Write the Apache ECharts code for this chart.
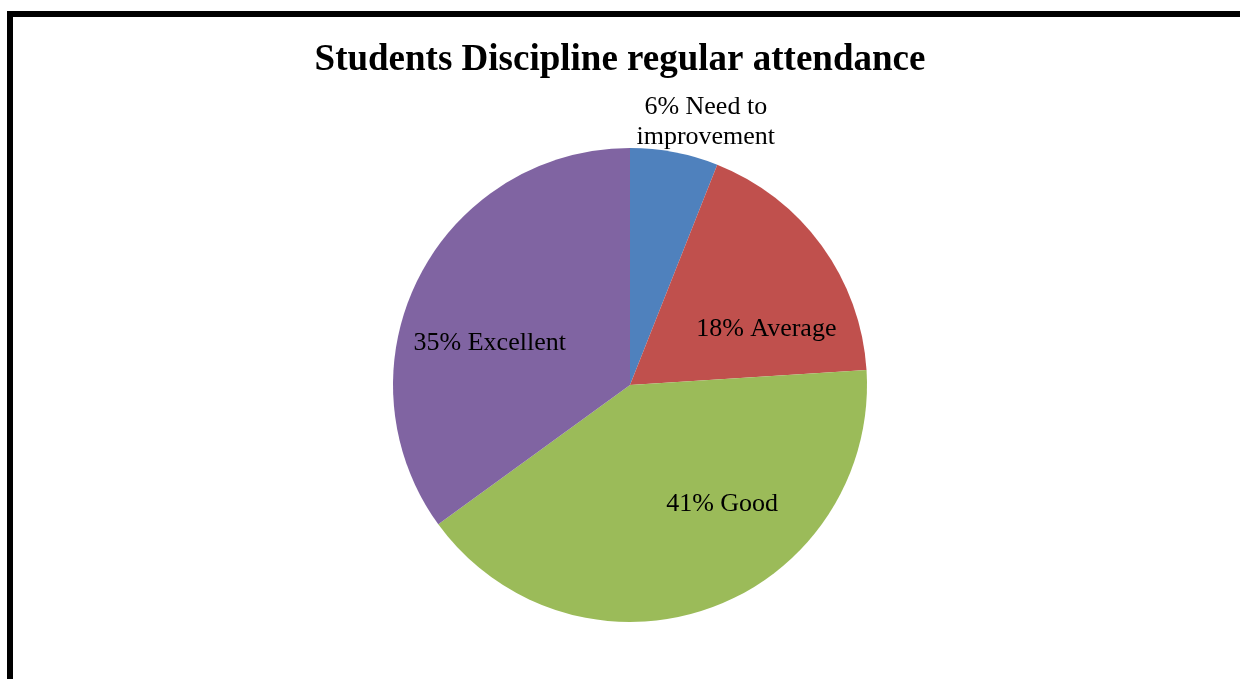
<!DOCTYPE html>
<html>
<head>
<meta charset="utf-8">
<style>
  html, body { margin: 0; padding: 0; background: #fff; }
  #main { width: 1240px; height: 679px; }
</style>
<script src="https://cdn.jsdelivr.net/npm/echarts@6/dist/echarts.min.js"></script>
</head>
<body>
<div id="main"></div>
<script>
var categories = ["Need to\nimprovement", "Average", "Good", "Excellent"];
var percents = [6, 18, 41, 35];
var colors = ["#4F81BD", "#C0504D", "#9BBB59", "#8064A2"];
// label nudges, Excel doesn't put them exactly on the mid angle
var labelShift = [[53, -143], [38, 16], [51, 5], [-32, 13]];

var chart = echarts.init(document.getElementById("main"));

var pieData = categories.map(function (name, i) {
    return { name: name, value: percents[i], itemStyle: { color: colors[i] } };
});

chart.setOption({
    animation: false,
    backgroundColor: "#fff",
    title: {
        text: "Students Discipline regular attendance",
        left: "center",
        top: 37,
        textStyle: {
            fontFamily: "Liberation Serif",
            fontWeight: "bold",
            fontSize: 37,
            color: "#000"
        }
    },
    graphic: [{
        type: "polyline",
        shape: { points: [[10, 700], [10, 14], [1260, 14]] },
        style: { stroke: "#000", lineWidth: 6, fill: null },
        silent: true
    }],
    series: [{
        type: "pie",
        center: [630, 385],
        radius: 237,
        startAngle: 90,
        clockwise: true,
        silent: true,
        itemStyle: { borderWidth: 0 },
        label: {
            show: true,
            position: "inside",
            fontFamily: "Liberation Serif",
            fontSize: 26,
            lineHeight: 30,
            color: "#000",
            formatter: function (p) {
                var t = p.value + "% " + p.name;
                return t;
            }
        },
        labelLine: { show: false },
        labelLayout: function (p) {
            var s = labelShift[p.dataIndex];
            return { dx: s[0], dy: s[1] };
        },
        data: pieData
    }]
});
</script>
</body>
</html>
